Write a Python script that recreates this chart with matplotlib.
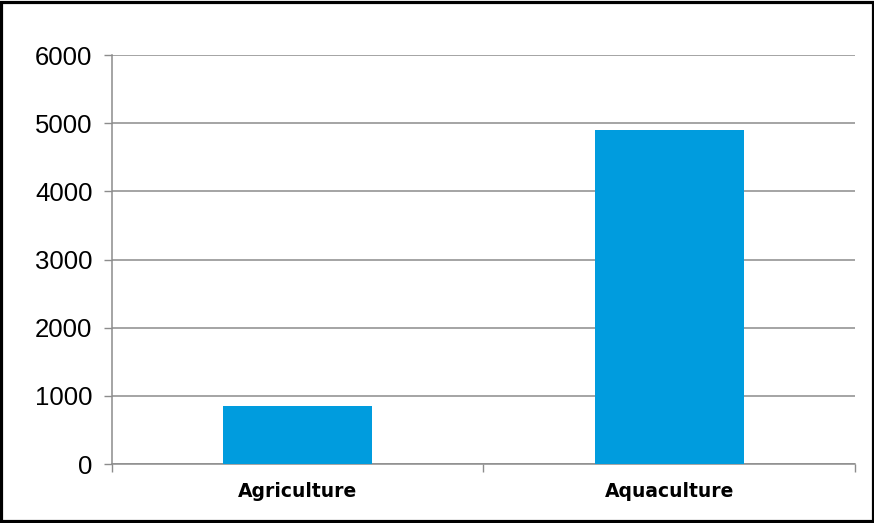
import matplotlib.pyplot as plt
from matplotlib.patches import Rectangle

categories = ['Agriculture', 'Aquaculture']
values = [850, 4900]
yticks = [0, 1000, 2000, 3000, 4000, 5000, 6000]

fig = plt.figure(figsize=(8.74, 5.23), dpi=100)
ax = fig.add_axes([0.1281, 0.1128, 0.8502, 0.782])

x = range(len(categories))
ax.bar(x, values, width=0.4, color='#009cde', zorder=3)

ax.set_xlim(-0.5, len(categories) - 0.5)
ax.set_ylim(0, 6000)
ax.set_yticks(yticks)
ax.set_yticklabels([str(v) for v in yticks], fontsize=18.5, family='Liberation Sans')
ax.yaxis.grid(True, color='#8c8c8c', linewidth=1.1, zorder=0)
ax.tick_params(axis='y', length=6, width=1, color='#8c8c8c', pad=8)

# category ticks sit on the boundaries, labels in the middle
ax.set_xticks([-0.5, 0.5, 1.5])
ax.set_xticklabels([])
ax.set_xticks(list(x), minor=True)
ax.set_xticklabels(categories, minor=True, fontsize=13.5, fontweight='bold')
ax.tick_params(axis='x', which='major', length=6, width=1, color='#8c8c8c', direction='out')
ax.tick_params(axis='x', which='minor', length=0, pad=13)

for s in ['top', 'right']:
    ax.spines[s].set_visible(False)
for s in ['left', 'bottom']:
    ax.spines[s].set_color('#8c8c8c')
    ax.spines[s].set_linewidth(1.1)

fig.patches.append(Rectangle((0.0017, 0.003), 0.9966, 0.994, transform=fig.transFigure,
                             fill=False, edgecolor='black', linewidth=2.3))

plt.savefig('out.png', dpi=100)
